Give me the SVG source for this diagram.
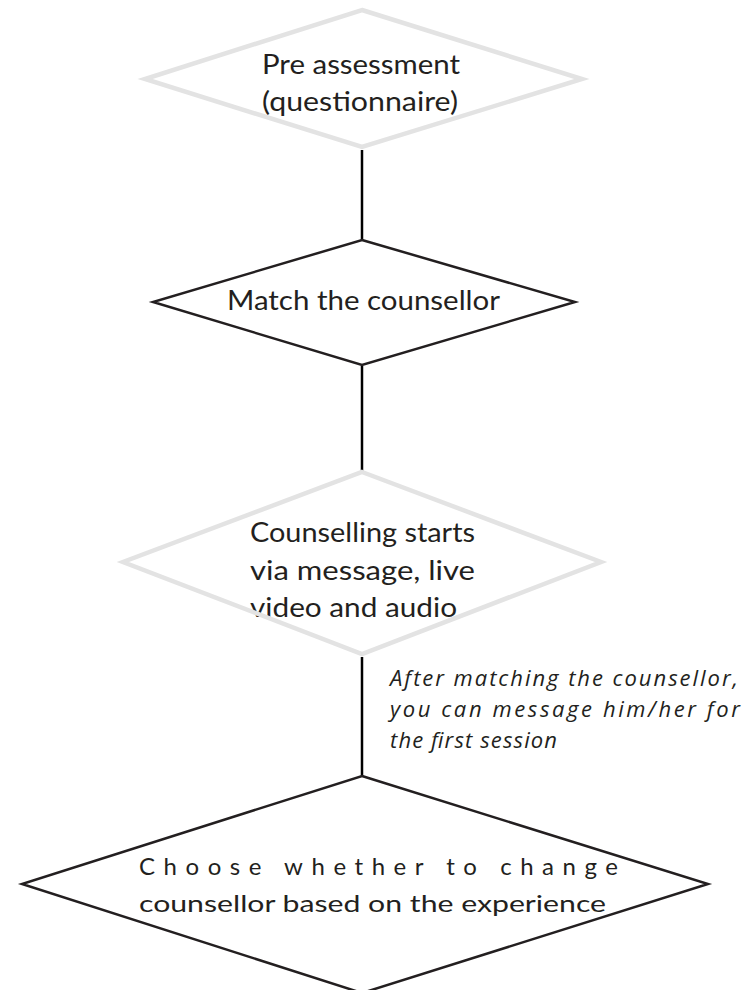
<svg xmlns="http://www.w3.org/2000/svg" width="744" height="990" viewBox="0 0 744 990">
<style>
.lbl{font-family:Lato,"Open Sans","Liberation Sans",sans-serif;fill:#231f20}
.note{font-family:"Open Sans",Lato,"Liberation Sans",sans-serif;font-style:italic;font-size:22px;fill:#231f20}
.light{fill:none;stroke:#e3e3e3;stroke-width:4.5;stroke-linejoin:miter}
.dark{fill:none;stroke:#231f20;stroke-width:2.5;stroke-linejoin:miter}
.conn{stroke:#000;stroke-width:2.5;fill:none}
</style>
<rect width="744" height="990" fill="#fff"/>
<g id="connectors">
<line class="conn" x1="362" y1="150" x2="362" y2="240"/>
<line class="conn" x1="362" y1="366" x2="362" y2="471"/>
<line class="conn" x1="362" y1="657" x2="362" y2="776"/>
</g>
<g id="note">
<text class="note" x="390" y="686" textLength="348" lengthAdjust="spacing">After matching the counsellor,</text>
<text class="note" x="390" y="717" textLength="350" lengthAdjust="spacing">you can message him/her for</text>
<text class="note" x="390" y="748" textLength="167" lengthAdjust="spacing">the first session</text>
</g>
<g id="pre-assessment">
<text class="lbl" font-size="26" x="262" y="74" textLength="198" lengthAdjust="spacingAndGlyphs">Pre assessment</text>
<text class="lbl" font-size="26" x="262" y="111" textLength="196" lengthAdjust="spacingAndGlyphs">(questionnaire)</text>
<polygon class="light" points="362,10 582,79 362,147 145,79"/>
</g>
<g id="match">
<text class="lbl" font-size="27" x="227" y="310" textLength="273" lengthAdjust="spacingAndGlyphs">Match the counsellor</text>
<polygon class="dark" points="362,240 575,302 362,365 153,302"/>
</g>
<g id="counselling">
<text class="lbl" font-size="26" x="250" y="542" textLength="225" lengthAdjust="spacingAndGlyphs">Counselling starts</text>
<text class="lbl" font-size="26" x="250" y="580" textLength="225" lengthAdjust="spacingAndGlyphs">via message, live</text>
<text class="lbl" font-size="26" x="250" y="617" textLength="207" lengthAdjust="spacingAndGlyphs">video and audio</text>
<polygon class="light" points="362,472 601,562 362,654 123,562"/>
</g>
<g id="choose">
<text class="lbl" font-size="24" x="139" y="875" textLength="479" lengthAdjust="spacing">Choose whether to change</text>
<text class="lbl" font-size="24" x="139" y="912" textLength="467" lengthAdjust="spacingAndGlyphs">counsellor based on the experience</text>
<polygon class="dark" points="362,776 708,884 362,993 22,884"/>
</g>
</svg>
